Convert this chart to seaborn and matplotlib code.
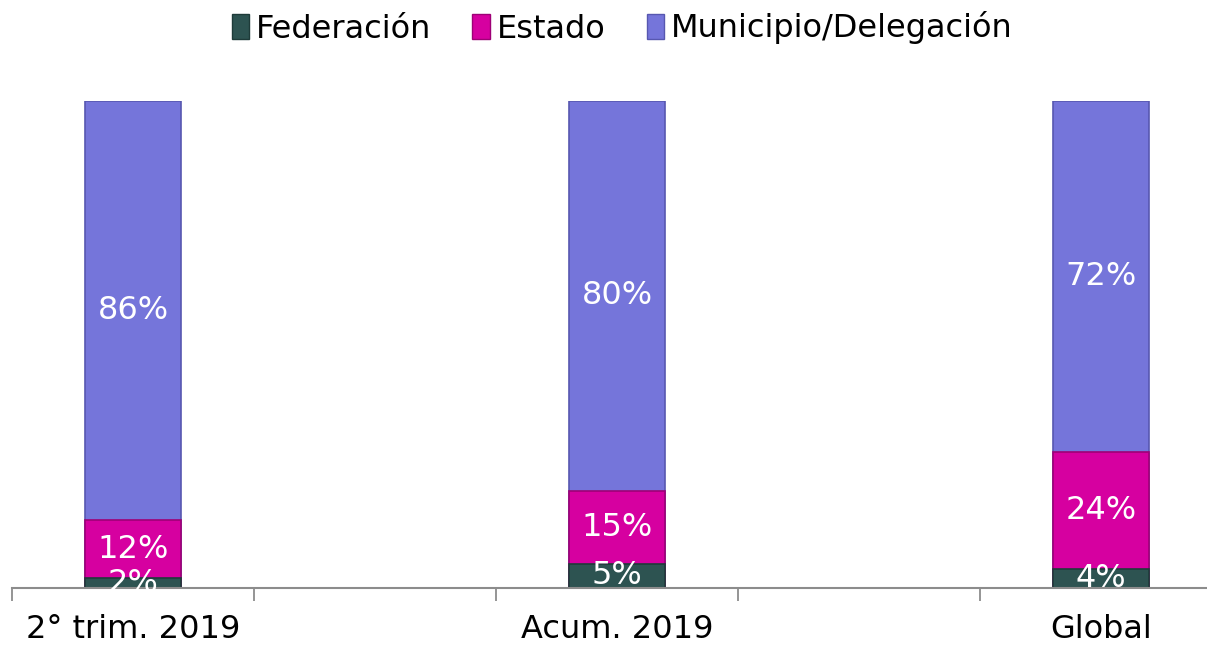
import matplotlib.pyplot as plt
import pandas as pd
import seaborn as sns
from matplotlib.patches import Patch
from matplotlib.ticker import FixedLocator

# categories (blank ones are empty slots on the axis)
CATEGORIES = ["2° trim. 2019", " ", "Acum. 2019", "  ", "Global"]
BAR_LABELS = ["2° trim. 2019", "Acum. 2019", "Global"]
FEDERACION = [2, 5, 4]
ESTADO = [12, 15, 24]
MUNICIPIO = [86, 80, 72]

SERIES = ["Federación", "Estado", "Municipio/Delegación"]
COLORS = ["#2D5351", "#D600A0", "#7575DA"]
EDGES = ["#1E3B39", "#9E0076", "#5757B0"]

df = pd.DataFrame(
    {
        "category": BAR_LABELS,
        "Federación": FEDERACION,
        "Estado": ESTADO,
        "Municipio/Delegación": MUNICIPIO,
    }
)
df["cum_fed"] = df["Federación"]
df["cum_est"] = df["Federación"] + df["Estado"]
df["cum_mun"] = df["cum_est"] + df["Municipio/Delegación"]

sns.set_style("white")
plt.rcParams["font.family"] = ["DejaVu Sans"]
plt.rcParams["text.color"] = "black"

fig = plt.figure(figsize=(12.07, 6.47), dpi=100)
ax = fig.add_axes([12 / 1207, 59 / 647, 1210 / 1207, 487 / 647])

# overlapping cumulative bars, tallest first
for col, color, edge in zip(["cum_mun", "cum_est", "cum_fed"], COLORS[::-1], EDGES[::-1]):
    sns.barplot(
        data=df, x="category", y=col, order=CATEGORIES, color=color,
        width=0.4, edgecolor=edge, linewidth=1.2, saturation=1, ax=ax,
    )

# segment labels
for i, cat in enumerate(BAR_LABELS):
    xpos = CATEGORIES.index(cat)
    bottom = 0
    for series in SERIES:
        val = df.loc[i, series]
        ax.text(
            xpos, bottom + val / 2, f"{val}%", ha="center", va="center",
            color="white", fontsize=23, clip_on=False,
        )
        bottom += val

ax.set_ylim(0, 100)
ax.set_xlim(-0.5, 4.5)
ax.set_xlabel("")
ax.set_ylabel("")
ax.set_yticks([])

# tick marks between slots, labels at slot centres
ax.xaxis.set_major_locator(FixedLocator([-0.5, 0.5, 1.5, 2.5, 3.5, 4.5]))
ax.xaxis.set_ticklabels([])
ax.xaxis.set_minor_locator(FixedLocator(range(len(CATEGORIES))))
ax.xaxis.set_ticklabels(CATEGORIES, minor=True)
ax.tick_params(axis="x", which="major", length=9, width=1.3, color="#8C8C8C", direction="out", bottom=True)
ax.tick_params(axis="x", which="minor", length=0, labelsize=23, pad=19, labelcolor="black")

for side in ["top", "right", "left"]:
    ax.spines[side].set_visible(False)
ax.spines["bottom"].set_color("#8C8C8C")
ax.spines["bottom"].set_linewidth(1.5)

handles = [Patch(facecolor=c, edgecolor=e) for c, e in zip(COLORS, EDGES)]
leg = fig.legend(
    handles, SERIES, loc="center", bbox_to_anchor=(622 / 1207, 1 - 28 / 647),
    ncol=3, frameon=False, fontsize=23, handlelength=0.55, handleheight=0.85,
    handletextpad=0.2, columnspacing=1.3,
)
for t in leg.get_texts():
    t.set_color("black")

fig.savefig("out.png", dpi=100)
